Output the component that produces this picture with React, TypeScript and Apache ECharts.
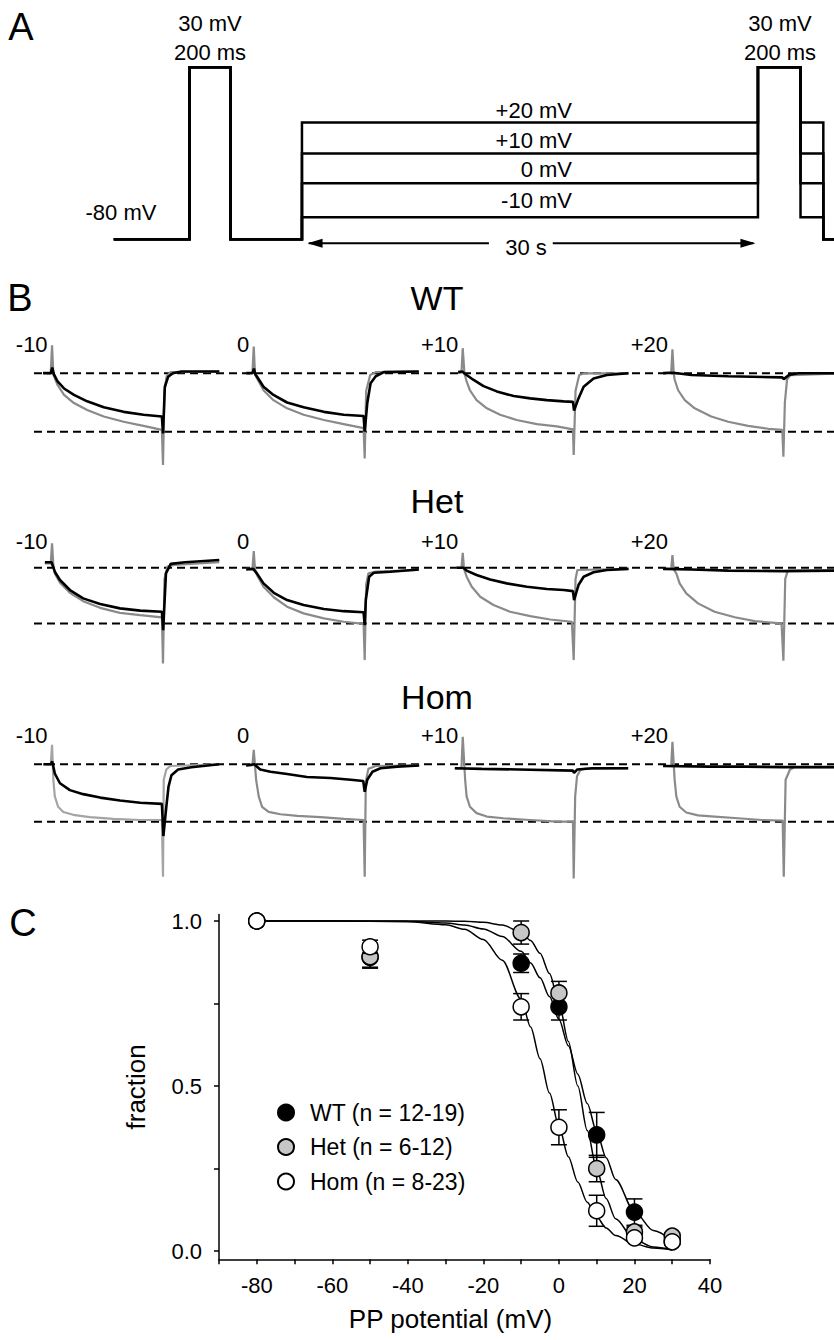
import React, { useEffect, useRef } from "react";
import * as echarts from "echarts";

const FONT = "'Liberation Sans', Arial, Helvetica, sans-serif";

// ---------------- Panel A: voltage protocol (schematic) ----------------
const PROTOCOL_TIMES = [-12.3, -7.4, -4.7, 0, 30, 32.8, 34.3, 36]; // schematic s
const HOLDING_MV = -80;
const PREPULSE_MV = 30;
const PP_LEVELS_MV = [20, 10, 0, -10];
const PP_LEVEL_LABELS = ["+20 mV", "+10 mV", "0 mV", "-10 mV"];
const SCHEMATIC_MV = [-80, -10, 0, 10, 20, 30];
const SCHEMATIC_HEIGHT = [0, 0.71, 1.81, 2.77, 3.77, 5.55];
const ARROW_LEFT = [0.45, 12.3];
const ARROW_RIGHT = [16.5, 29.7];
const ARROW_HEADS = [0.86, 29.34];
const ARROW_LEVEL = -0.13;

// ---------------- Panel B: current traces (normalised) ----------------
const ROW_NAMES = ["WT", "Het", "Hom"];
const STEP_LABELS = ["-10", "0", "+10", "+20"];
const REFERENCE_LEVELS = [0, -1];

const WT_M10_GRAY = [[-2.6,0.01],[-0.5,0.01],[-0.15,0.48],[0.2,-0.02],[1.35,-0.2],[3.1,-0.37],[5.8,-0.51],[9.4,-0.63],[13.9,-0.74],[19.3,-0.83],[24.7,-0.9],[29.7,-0.97],[30,-1.57],[30.4,-0.3],[31,-0.05],[32,0.02],[45.3,0.03]];
const WT_M10_BLACK = [[-2.6,0],[-0.5,0],[-0.1,0.1],[0.3,-0.01],[1.35,-0.14],[3.1,-0.26],[5.8,-0.37],[9.4,-0.48],[13.9,-0.58],[19.3,-0.66],[24.7,-0.71],[29.7,-0.74],[30,-1.03],[30.5,-0.23],[31.4,-0.06],[32.7,0],[35,0.03],[45.3,0.03]];
const WT_0_GRAY = [[-2.2,0.01],[-0.5,0.01],[-0.15,0.46],[0.2,-0.02],[0.75,-0.09],[2.5,-0.29],[5.2,-0.46],[8.9,-0.6],[13.4,-0.71],[18.9,-0.8],[24.3,-0.87],[29.7,-0.94],[30,-1.46],[30.4,-0.3],[31.5,-0.03],[33,0.02],[44.7,0.03]];
const WT_0_BLACK = [[-2.2,0],[-0.5,0],[-0.1,0.08],[0.3,-0.02],[0.75,-0.06],[2.5,-0.23],[5.2,-0.37],[8.9,-0.5],[13.4,-0.58],[18.9,-0.66],[24.3,-0.71],[29.7,-0.73],[30,-1.0],[30.7,-0.51],[31.6,-0.17],[33,-0.05],[35.2,0.02],[44.7,0.03]];
const WT_P10_GRAY = [[-1.4,0.01],[-0.5,0.01],[-0.15,0.43],[0.3,0],[0.9,-0.14],[1.8,-0.29],[3.6,-0.46],[6.4,-0.6],[10,-0.71],[14.5,-0.8],[20,-0.87],[25.4,-0.91],[29.8,-0.96],[30,-1.4],[30.5,-0.3],[31.5,-0.03],[33,0],[44.9,0]];
const WT_P10_BLACK = [[-1.4,0.02],[-0.3,0.03],[0.3,0],[0.9,-0.03],[2.7,-0.11],[5.5,-0.22],[9.1,-0.31],[13.7,-0.39],[18.2,-0.43],[22.7,-0.46],[27.3,-0.48],[29.8,-0.49],[30.1,-0.64],[31.3,-0.43],[32.7,-0.23],[35.4,-0.09],[39,-0.03],[44.9,0]];
const WT_P20_GRAY = [[-2.7,0.01],[-0.5,0.01],[-0.15,0.41],[0.2,0],[0.46,-0.11],[1.4,-0.29],[3.2,-0.46],[5.9,-0.6],[10.4,-0.74],[15,-0.83],[20.4,-0.9],[25.9,-0.95],[29.7,-0.97],[30,-1.43],[30.4,-0.5],[31,-0.1],[32,-0.03],[46,0]];
const WT_P20_BLACK = [[-2.7,0],[0,0.01],[5,-0.03],[15,-0.05],[29.7,-0.07],[30.1,-0.1],[31.5,-0.03],[34,0],[46,0]];

const HET_M10_GRAY = [[-2.1,0.08],[-0.5,0.08],[-0.15,0.44],[0.2,0.05],[0.6,-0.1],[2,-0.27],[4.7,-0.45],[8.3,-0.6],[12.9,-0.72],[18.3,-0.81],[23.8,-0.85],[29.7,-0.89],[30,-1.72],[30.4,-0.2],[31.2,0.02],[33,0.05],[45.3,0.1]];
const HET_M10_BLACK = [[-2.1,0.1],[-0.3,0.1],[0.6,-0.07],[2,-0.22],[4.7,-0.4],[8.3,-0.55],[12.9,-0.65],[18.3,-0.73],[23.8,-0.77],[29.7,-0.79],[30.05,-1.12],[30.8,-0.1],[32.1,0.07],[36,0.1],[45.3,0.14]];
const HET_0_GRAY = [[-2.2,-0.02],[-0.5,-0.02],[-0.15,0.3],[0.2,-0.03],[0.7,-0.13],[2.5,-0.34],[5.3,-0.53],[8.9,-0.7],[13.4,-0.82],[18.9,-0.91],[24.3,-0.97],[29.7,-1.01],[30,-1.66],[30.4,-0.3],[31,-0.1],[33,-0.07],[44.7,-0.04]];
const HET_0_BLACK = [[-2.2,-0.03],[-0.3,-0.02],[0.7,-0.1],[2.5,-0.28],[5.3,-0.45],[8.9,-0.58],[13.4,-0.67],[18.9,-0.74],[24.3,-0.78],[29.7,-0.8],[30,-1.03],[30.3,-0.58],[31.2,-0.16],[32.5,-0.09],[37,-0.07],[44.7,-0.03]];
const HET_P10_GRAY = [[-1.8,0],[-0.5,0],[-0.15,0.27],[0.2,-0.02],[0.9,-0.16],[2.3,-0.34],[4.6,-0.52],[8.2,-0.67],[12.7,-0.79],[18.2,-0.87],[23.6,-0.93],[29.5,-0.97],[30,-1.66],[30.5,-0.2],[31,-0.04],[44.9,-0.02]];
const HET_P10_BLACK = [[-1.8,0],[0,0],[0.9,-0.05],[3.6,-0.13],[7.3,-0.21],[11.8,-0.28],[17.3,-0.34],[22.7,-0.38],[27.3,-0.4],[29.8,-0.42],[30.1,-0.58],[31.3,-0.31],[32.7,-0.16],[35.4,-0.08],[39,-0.04],[44.9,-0.02]];
const HET_P20_GRAY = [[-2.7,-0.02],[-0.5,-0.02],[-0.15,0.23],[0.2,-0.03],[0.9,-0.1],[1.8,-0.28],[3.6,-0.46],[6.8,-0.64],[11.3,-0.79],[16.8,-0.89],[22.2,-0.96],[29.5,-1.0],[30,-1.67],[30.5,-0.2],[31.2,-0.05],[46,-0.05]];
const HET_P20_BLACK = [[-2.7,-0.02],[5,-0.03],[15,-0.05],[30,-0.06],[46,-0.05]];

const HOM_M10_GRAY = [[-2.5,0],[-0.5,0],[-0.15,0.34],[0.2,-0.27],[0.6,-0.56],[1.5,-0.74],[2.9,-0.83],[5.6,-0.88],[10.1,-0.92],[16.5,-0.95],[23.8,-0.97],[29.7,-0.97],[30,-1.96],[30.2,-0.27],[30.9,-0.09],[32,-0.03],[45.3,0]];
const HOM_M10_BLACK = [[-2.5,0],[-0.5,0],[-0.1,0.05],[0.6,-0.16],[2,-0.33],[4.7,-0.45],[8.3,-0.52],[12.9,-0.58],[18.3,-0.63],[23.8,-0.67],[29.7,-0.69],[30.1,-1.25],[30.9,-0.74],[31.5,-0.39],[32.3,-0.19],[34.1,-0.09],[37.7,-0.05],[45.3,0]];
const HOM_0_GRAY = [[-2.2,-0.02],[-0.5,-0.02],[-0.15,0.25],[0.5,-0.27],[1.2,-0.56],[2.1,-0.74],[3.9,-0.83],[7.1,-0.87],[11.7,-0.9],[18,-0.92],[24.4,-0.95],[29.7,-0.97],[30,-1.96],[30.3,-0.3],[31,-0.08],[33,-0.03],[44.8,-0.02]];
const HOM_0_BLACK = [[-2.2,-0.02],[0,0],[1.6,-0.09],[4.4,-0.13],[8.9,-0.17],[14.3,-0.22],[20.7,-0.24],[26.2,-0.27],[29.6,-0.29],[30,-0.48],[30.7,-0.27],[32.1,-0.13],[34.3,-0.07],[38.9,-0.04],[44.8,-0.02]];
const HOM_P10_GRAY = [[-2.3,-0.07],[-0.5,-0.07],[-0.15,0.48],[0.5,-0.27],[0.9,-0.56],[1.8,-0.74],[3.6,-0.85],[6.4,-0.91],[10.9,-0.94],[18.2,-0.97],[25.4,-1.0],[29.8,-1.0],[30,-1.99],[30.4,-0.56],[30.9,-0.21],[31.8,-0.1],[33,-0.08],[44.8,-0.07]];
const HOM_P10_BLACK = [[-2.3,-0.07],[5,-0.08],[15,-0.09],[29.8,-0.11],[30.1,-0.15],[31,-0.09],[35,-0.07],[44.8,-0.07]];
const HOM_P20_GRAY = [[-2.7,-0.03],[-0.5,-0.03],[-0.15,0.39],[0.45,-0.27],[0.9,-0.56],[1.8,-0.74],[3.6,-0.84],[6.8,-0.89],[11.3,-0.91],[17.7,-0.94],[24.1,-0.97],[29.8,-0.98],[30.1,-1.96],[30.6,-0.27],[31.8,-0.09],[33,-0.05],[46,-0.05]];
const HOM_P20_BLACK = [[-2.7,-0.03],[10,-0.04],[20,-0.04],[30,-0.05],[46,-0.05]];

const GRAY_TRACES = [
  [WT_M10_GRAY, WT_0_GRAY, WT_P10_GRAY, WT_P20_GRAY],
  [HET_M10_GRAY, HET_0_GRAY, HET_P10_GRAY, HET_P20_GRAY],
  [HOM_M10_GRAY, HOM_0_GRAY, HOM_P10_GRAY, HOM_P20_GRAY],
];
const BLACK_TRACES = [
  [WT_M10_BLACK, WT_0_BLACK, WT_P10_BLACK, WT_P20_BLACK],
  [HET_M10_BLACK, HET_0_BLACK, HET_P10_BLACK, HET_P20_BLACK],
  [HOM_M10_BLACK, HOM_0_BLACK, HOM_P10_BLACK, HOM_P20_BLACK],
];

// ---------------- Panel C: fraction vs PP potential ----------------
const PP_POTENTIAL = [-80, -50, -10, 0, 10, 20, 30];
const WT_FRACTION = [1.0, 0.89, 0.872, 0.74, 0.352, 0.118, 0.03];
const WT_SEM = [0, 0.03, 0.028, 0.04, 0.068, 0.04, 0.01];
const HET_FRACTION = [1.0, 0.892, 0.965, 0.782, 0.25, 0.058, 0.045];
const HET_SEM = [0, 0.035, 0.035, 0.035, 0.04, 0.015, 0.01];
const HOM_FRACTION = [1.0, 0.922, 0.74, 0.375, 0.122, 0.04, 0.028];
const HOM_SEM = [0, 0.02, 0.04, 0.053, 0.047, 0.01, 0.01];

const FIT_V = [-80, -60, -40, -30, -25, -20, -15, -10, -7.5, -5, -2.5, 0, 2.5, 5, 7.5, 10, 12.5, 15, 20, 25, 30];
const WT_FIT = [1, 1, 0.999, 0.994, 0.988, 0.976, 0.953, 0.908, 0.873, 0.828, 0.771, 0.702, 0.622, 0.536, 0.447, 0.361, 0.283, 0.217, 0.119, 0.062, 0.031];
const HET_FIT = [1, 1, 1, 1, 0.999, 0.996, 0.988, 0.966, 0.941, 0.902, 0.841, 0.752, 0.635, 0.5, 0.365, 0.248, 0.159, 0.098, 0.034, 0.012, 0.004];
const HOM_FIT = [1, 1, 0.998, 0.989, 0.975, 0.944, 0.881, 0.763, 0.679, 0.583, 0.479, 0.378, 0.286, 0.209, 0.148, 0.103, 0.07, 0.047, 0.021, 0.009, 0.004];

const GROUPS = [
  { name: "WT (n = 12-19)", fill: "#000000", values: WT_FRACTION, sem: WT_SEM, fit: WT_FIT },
  { name: "Het (n = 6-12)", fill: "#c6c6c6", values: HET_FRACTION, sem: HET_SEM, fit: HET_FIT },
  { name: "Hom (n = 8-23)", fill: "#ffffff", values: HOM_FRACTION, sem: HOM_SEM, fit: HOM_FIT },
];

// ---------------- layout ----------------
const CANVAS_W = 834;
const PANEL_X0 = [52.6, 254.3, 463.3, 673];
const PX_PER_S = 3.68;
const PROTO_LEFT = 115;
const PROTO_PX = 15.2;
const ROW_LAYOUT = [
  { base: 373.3, span: 58.4, titleY: 298, labelY: 344 },
  { base: 567.8, span: 55.6, titleY: 501, labelY: 541 },
  { base: 764.3, span: 57.4, titleY: 697, labelY: 735 },
];

function hidden(min: number, max: number) {
  return { type: "value", show: false, min, max, splitLine: { show: false } };
}

function text(t: string, x: number, y: number, size: number, align = "center") {
  return {
    type: "text",
    x,
    y,
    silent: true,
    z: 50,
    style: {
      text: t,
      fill: "#000",
      fontSize: size,
      fontFamily: FONT,
      align,
      verticalAlign: "middle",
      textAlign: align,
      textVerticalAlign: "middle",
    },
  };
}

function buildOption() {
  const grid: any[] = [];
  const xAxis: any[] = [];
  const yAxis: any[] = [];
  const series: any[] = [];
  const graphic: any[] = [];

  const addGrid = (g: any, x: any, y: any) => {
    grid.push(g);
    const i = grid.length - 1;
    xAxis.push({ ...x, gridIndex: i });
    yAxis.push({ ...y, gridIndex: i });
    return i;
  };

  // ---------- Panel A ----------
  const h = (mv: number) => SCHEMATIC_HEIGHT[SCHEMATIC_MV.indexOf(mv)];
  const [t0, t1, t2, t3, t4, t5, t6, t7] = PROTOCOL_TIMES;
  const protoWidth = CANVAS_W - PROTO_LEFT;
  const gA = addGrid(
    { left: PROTO_LEFT, top: 53.3, width: protoWidth, height: 217 },
    hidden(t0, t0 + protoWidth / PROTO_PX),
    hidden(-1, 6)
  );
  const B = h(HOLDING_MV);
  const P = h(PREPULSE_MV);
  PP_LEVELS_MV.forEach((lv) => {
    const H = h(lv);
    series.push({
      type: "line",
      xAxisIndex: gA,
      yAxisIndex: gA,
      symbol: "none",
      silent: true,
      lineStyle: { color: "#000", width: 2.5, join: "miter", cap: "square" },
      data: [[t0, B], [t1, B], [t1, P], [t2, P], [t2, B], [t3, B], [t3, H], [t4, H], [t4, P], [t5, P], [t5, H], [t6, H], [t6, B], [t7, B]],
    });
  });
  [ARROW_LEFT, ARROW_RIGHT].forEach((seg) => {
    series.push({
      type: "line",
      xAxisIndex: gA,
      yAxisIndex: gA,
      symbol: "none",
      silent: true,
      lineStyle: { color: "#000", width: 2 },
      data: [[seg[0], ARROW_LEVEL], [seg[1], ARROW_LEVEL]],
    });
  });
  series.push({
    type: "scatter",
    xAxisIndex: gA,
    yAxisIndex: gA,
    silent: true,
    symbol: "triangle",
    symbolSize: [9, 15],
    itemStyle: { color: "#000", opacity: 1 },
    data: [
      { value: [ARROW_HEADS[0], ARROW_LEVEL], symbolRotate: 90 },
      { value: [ARROW_HEADS[1], ARROW_LEVEL], symbolRotate: -90 },
    ],
  });
  graphic.push(text("A", 21, 27, 38));
  graphic.push(text("30 mV", 210, 23, 22));
  graphic.push(text("200 ms", 210, 52, 22));
  graphic.push(text("30 mV", 780, 23, 22));
  graphic.push(text("200 ms", 780, 52, 22));
  graphic.push(text("-80 mV", 121, 212, 22));
  const levelLabelY = [110, 140, 169, 200];
  PP_LEVEL_LABELS.forEach((l, i) => graphic.push(text(l, 572, levelLabelY[i], 22, "right")));
  graphic.push(text("30 s", 526, 247, 22));

  // ---------- Panel B ----------
  graphic.push(text("B", 20, 298, 38));
  ROW_NAMES.forEach((rowName, r) => {
    const L = ROW_LAYOUT[r];
    const top = L.base - 0.8 * L.span;
    const height = 3 * L.span;
    const gRow = addGrid({ left: 34, top, width: CANVAS_W - 34, height }, hidden(0, 1), hidden(-2.2, 0.8));
    REFERENCE_LEVELS.forEach((lv) => {
      series.push({
        type: "line",
        xAxisIndex: gRow,
        yAxisIndex: gRow,
        symbol: "none",
        silent: true,
        z: 1,
        lineStyle: { color: "#000", width: 2, type: [8, 5] },
        data: [[0, lv], [1, lv]],
      });
    });
    PANEL_X0.forEach((x0, p) => {
      const left = x0 - 3 * PX_PER_S;
      const width = Math.min(50 * PX_PER_S, CANVAS_W - left);
      const g = addGrid(
        { left, top, width, height },
        hidden(-3, -3 + width / PX_PER_S),
        hidden(-2.2, 0.8)
      );
      const grayColor = r === 2 && p === 0 ? "#a4a4a4" : "#8a8a8a";
      series.push({
        type: "line",
        xAxisIndex: g,
        yAxisIndex: g,
        symbol: "none",
        silent: true,
        z: 2,
        lineStyle: { color: grayColor, width: 2.2 },
        data: GRAY_TRACES[r][p],
      });
      series.push({
        type: "line",
        xAxisIndex: g,
        yAxisIndex: g,
        symbol: "none",
        silent: true,
        z: 3,
        lineStyle: { color: "#000", width: 2.6 },
        data: BLACK_TRACES[r][p],
      });
      graphic.push(text(STEP_LABELS[p], x0 - 5, L.labelY, 22, "right"));
    });
    graphic.push(text(rowName, 437, L.titleY, 34));
  });

  // ---------- Panel C ----------
  graphic.push(text("C", 23, 923, 38));
  const gC = addGrid(
    { left: 219, top: 914.4, width: 491, height: 344.9 },
    {
      type: "value",
      min: -90,
      max: 40,
      interval: 10,
      name: "PP potential (mV)",
      nameLocation: "middle",
      nameGap: 47,
      nameTextStyle: { fontSize: 26, fontFamily: FONT, color: "#000", padding: [0, 28, 0, 0] },
      axisLine: { onZero: false, lineStyle: { color: "#000", width: 1.5 } },
      axisTick: { length: 5, lineStyle: { color: "#000", width: 1.5 } },
      axisLabel: {
        fontSize: 22,
        fontFamily: FONT,
        color: "#000",
        margin: 15,
        formatter: (v: number) => (v % 20 === 0 ? String(v) : ""),
      },
      splitLine: { show: false },
    },
    {
      type: "value",
      min: -0.025,
      max: 1.02,
      name: "fraction",
      nameLocation: "middle",
      nameGap: 70,
      nameRotate: 90,
      nameTextStyle: { fontSize: 26, fontFamily: FONT, color: "#000" },
      axisLine: { onZero: false, lineStyle: { color: "#000", width: 1.5 } },
      axisTick: { length: 5, customValues: [0, 0.25, 0.5, 0.75, 1], lineStyle: { color: "#000", width: 1.5 } },
      axisLabel: {
        fontSize: 22,
        fontFamily: FONT,
        color: "#000",
        margin: 17,
        customValues: [0, 0.5, 1],
        formatter: (v: number) => v.toFixed(1),
      },
      splitLine: { show: false },
    }
  );

  GROUPS.forEach((grp) => {
    series.push({
      type: "line",
      name: grp.name + " fit",
      xAxisIndex: gC,
      yAxisIndex: gC,
      symbol: "none",
      silent: true,
      smooth: 0.3,
      smoothMonotone: "x",
      z: 2,
      lineStyle: { color: "#000", width: 1.5 },
      data: FIT_V.map((v, i) => [v, grp.fit[i]]),
    });
  });

  GROUPS.forEach((grp, gi) => {
    series.push({
      type: "custom",
      name: grp.name + " sem",
      xAxisIndex: gC,
      yAxisIndex: gC,
      silent: true,
      z: 3 + gi * 2,
      renderItem: (params: any, api: any) => {
        const x = api.value(0);
        const y = api.value(1);
        const e = api.value(2);
        if (!e) return null;
        const top = api.coord([x, y + e]);
        const bot = api.coord([x, y - e]);
        const hw = 8;
        const st = { stroke: "#000", lineWidth: 1.5 };
        return {
          type: "group",
          children: [
            { type: "line", shape: { x1: top[0], y1: top[1], x2: bot[0], y2: bot[1] }, style: st },
            { type: "line", shape: { x1: top[0] - hw, y1: top[1], x2: top[0] + hw, y2: top[1] }, style: st },
            { type: "line", shape: { x1: bot[0] - hw, y1: bot[1], x2: bot[0] + hw, y2: bot[1] }, style: st },
          ],
        };
      },
      data: PP_POTENTIAL.map((v, i) => [v, grp.values[i], grp.sem[i]]),
    });
    series.push({
      type: "scatter",
      name: grp.name,
      xAxisIndex: gC,
      yAxisIndex: gC,
      symbol: "circle",
      symbolSize: 16,
      z: 4 + gi * 2,
      itemStyle: { color: grp.fill, borderColor: "#000", borderWidth: 1.5, opacity: 1 },
      emphasis: { disabled: true },
      data: PP_POTENTIAL.map((v, i) => [v, grp.values[i]]),
    });
  });

  return {
    animation: false,
    backgroundColor: "#fff",
    grid,
    xAxis,
    yAxis,
    series,
    graphic,
    legend: {
      data: GROUPS.map((g) => g.name),
      orient: "vertical",
      left: 272,
      top: 1096,
      itemWidth: 38,
      itemHeight: 16,
      itemGap: 11.5,
      icon: "circle",
      selectedMode: false,
      itemStyle: { opacity: 1 },
      textStyle: { fontSize: 23, fontFamily: FONT, color: "#000", lineHeight: 22 },
    },
  };
}

export default function App() {
  const ref = useRef<HTMLDivElement>(null);
  useEffect(() => {
    document.body.style.margin = "0";
    const chart = echarts.init(ref.current as HTMLDivElement, null, { renderer: "svg", width: 834, height: 1340 });
    chart.setOption(buildOption() as any);
    return () => {
      chart.dispose();
    };
  }, []);
  return <div ref={ref} style={{ width: 834, height: 1340 }} />;
}
